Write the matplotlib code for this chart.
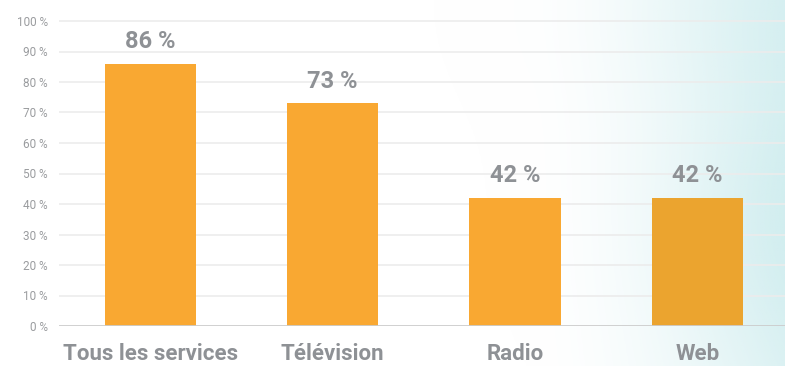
import matplotlib
matplotlib.use("Agg")
import matplotlib.pyplot as plt
import numpy as np

categories = ["Tous les services", "Télévision", "Radio", "Web"]
values = [86, 73, 42, 42]
yticks = [0, 10, 20, 30, 40, 50, 60, 70, 80, 90, 100]
ytick_labels = [f"{t} %" for t in yticks]

W, H = 785, 366
fig = plt.figure(figsize=(W / 100, H / 100), dpi=100)
fig.patch.set_facecolor("white")

# background gradient
bg = fig.add_axes([0, 0, 1, 1], zorder=0)
bg.set_axis_off()
xx, yy = np.meshgrid(np.linspace(0, 1, 400), np.linspace(0, 1, 200))
a1 = np.clip((xx - 0.68) / 0.32, 0, 1) ** 1.6
a2 = np.exp(-(((xx - 1.0) / 0.18) ** 2 + ((yy - 0.6) / 0.4) ** 2))
a3 = np.exp(-(((xx - 0.95) / 0.2) ** 2 + ((yy - 0.0) / 0.3) ** 2))
alpha = np.clip(0.6 * a1 + 0.3 * a2 + 0.2 * a3, 0, 0.9)
img = np.zeros((200, 400, 4))
img[..., 0] = 205 / 255
img[..., 1] = 236 / 255
img[..., 2] = 238 / 255
img[..., 3] = alpha
bg.imshow(img, extent=[0, 1, 0, 1], aspect="auto", origin="upper")
bg.set_xlim(0, 1)
bg.set_ylim(0, 1)

px_per_unit = 305 / 100
top_extra = 2
ax = fig.add_axes([59 / W, 40 / H, 1 - 59 / W, (305 + top_extra * px_per_unit) / H], zorder=1)
ax.patch.set_alpha(0)

x = np.arange(len(categories))
bar_color = "#F9A832"
bars = ax.bar(x, values, width=0.5, color=bar_color, zorder=3)
bars[3].set_facecolor("#EBA42F")

ax.set_xlim(-0.5, 3.48)
ax.set_ylim(0, 100 + top_extra)
ax.set_yticks(yticks)
ax.set_yticklabels(ytick_labels)
ax.tick_params(axis="y", length=0, pad=8, labelsize=8.5, labelcolor="#9a9c9f")
for lab in ax.get_yticklabels():
    lab.set_family("Roboto")
ax.set_xticks(x)
ax.set_xticklabels(categories)
ax.tick_params(axis="x", length=0, pad=12, labelsize=16, labelcolor="#8e9195")
for lab in ax.get_xticklabels():
    lab.set_fontweight("bold")
    lab.set_family("Roboto")

ax.grid(axis="y", color="#ececec", linewidth=1.2, zorder=0)
for t, line in zip(yticks, ax.get_ygridlines()):
    if t == 0:
        line.set_visible(False)
ax.axhline(0, color="#cccccc", linewidth=2, zorder=4)
for s in ax.spines.values():
    s.set_visible(False)

for xi, v in zip(x, values):
    ax.text(xi, v + 3.5, f"{v} %", ha="center", va="bottom", fontsize=17,
            fontweight="bold", color="#8e9195", family="Roboto")

fig.savefig("out.png", dpi=100)
